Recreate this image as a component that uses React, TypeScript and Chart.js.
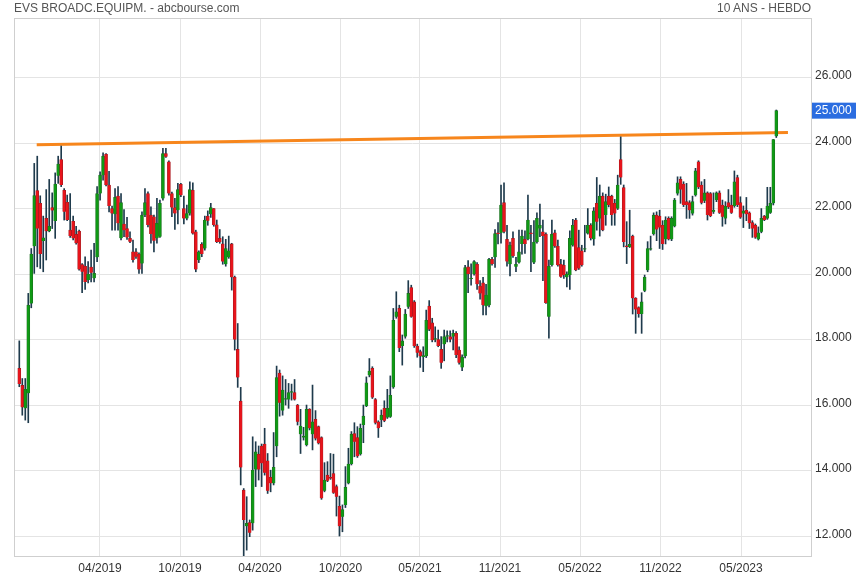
import React, { useEffect, useRef } from "react";
import { Chart, registerables } from "chart.js";
Chart.register(...registerables);

// Weekly candles (EVS Broadcast Equipment), oldest first
const opens = [
  17.13, 16.61, 15.91, 16.37, 19.11, 20.86, 22.56, 22.17, 21.02, 21.71,
  21.32, 22.04, 21.63, 23.01, 23.51, 22.57, 22.2, 21.35, 21.62, 21.22,
  21.32, 20.3, 20.25, 19.83, 20.22, 19.88, 20.52, 22.47, 23.03, 23.67,
  22.73, 22.01, 21.84, 22.39, 21.1, 21.54, 21.4, 21.1, 20.69, 20.69,
  20.62, 20.33, 21.81, 22.47, 21.81, 21.76, 21.1, 21.15, 22.32, 23.69,
  23.44, 22.47, 22.04, 21.96, 22.75, 22.01, 21.71, 21.86, 22.57, 21.3,
  20.44, 20.92, 20.79, 21.78, 21.84, 22.01, 21.51, 21.1, 20.93, 20.31,
  20.52, 20.93, 19.91, 17.71, 16.13, 13.41, 12.31, 12.42, 12.4, 14.04,
  14.51, 14.76, 14.82, 14.31, 13.8, 13.62, 14.76, 16.99, 15.84, 16.18,
  16.18, 16.39, 16.39, 16.01, 15.12, 15.02, 14.79, 15.88, 15.12, 15.57,
  15.35, 15.02, 13.39, 13.87, 13.8, 13.92, 13.52, 12.92, 12.6, 12.96,
  13.62, 14.21, 15.14, 15.02, 14.51, 15.4, 15.98, 16.92, 17.13, 16.18,
  15.5, 15.55, 15.91, 15.63, 15.65, 16.55, 18.71, 18.96, 17.81, 18.1,
  19.01, 19.6, 19.16, 17.81, 17.64, 17.48, 17.5, 19.03, 18.52, 18.01,
  18.01, 17.71, 17.87, 18.1, 18.1, 18.1, 18.2, 17.69, 17.16, 17.5,
  20.23, 19.86, 20.01, 20.31, 19.64, 19.74, 19.03, 19.06, 20.46, 20.52,
  21.27, 21.27, 22.19, 21.07, 20.31, 21.1, 20.23, 20.36, 20.93, 21.07,
  21.07, 21.27, 20.36, 20.99, 21.4, 21.3, 21.23, 18.71, 20.28, 21.27,
  20.86, 20.31, 20.28, 19.91, 19.98, 20.89, 21.66, 20.82, 20.72, 20.76,
  21.25, 21.5, 21.07, 22.17, 21.71, 22.39, 21.81, 22.39, 22.39, 22.17,
  22.01, 23.51, 22.65, 20.86, 20.84, 21.17, 19.27, 18.99, 18.79, 19.5,
  20.13, 20.76, 21.23, 21.81, 21.78, 21.5, 21.07, 21.71, 21.07, 21.47,
  22.47, 22.9, 22.76, 22.22, 22.19, 21.86, 22.42, 23.44, 22.73, 22.25,
  22.49, 22.47, 21.91, 22.27, 22.49, 22.12, 21.71, 22.19, 22.12, 22.09,
  22.96, 22.19, 21.86, 21.96, 21.88, 21.58, 21.5, 21.07, 21.3, 21.78,
  21.71, 21.88, 22.17, 24.22
];
const highs = [
  17.97, 16.82, 16.82, 19.42, 20.79, 23.39, 23.61, 22.4, 21.78, 22.59,
  22.9, 22.49, 23.1, 23.61, 23.92, 22.62, 22.42, 22.47, 21.78, 21.47,
  21.35, 20.33, 20.54, 20.39, 20.74, 20.95, 22.68, 23.13, 23.71, 23.69,
  23.15, 22.09, 22.62, 22.68, 22.47, 21.98, 21.74, 21.3, 21.05, 20.79,
  20.66, 21.91, 22.62, 22.52, 22.06, 21.81, 22.32, 22.27, 23.85, 23.85,
  23.47, 22.51, 22.32, 22.78, 22.78, 22.39, 22.12, 22.83, 22.8, 21.35,
  20.72, 20.97, 21.78, 21.94, 22.17, 22.01, 21.66, 21.37, 21.15, 21.07,
  21.17, 20.95, 19.95, 18.5, 16.55, 13.46, 13.21, 12.5, 15.04, 14.89,
  14.76, 14.82, 15.3, 14.53, 14.02, 15.17, 17.2, 17.08, 16.9, 16.79,
  16.67, 16.65, 16.79, 16.03, 15.88, 15.33, 16.01, 15.9, 16.62, 15.84,
  15.37, 15.04, 14.25, 14.28, 14.53, 14.51, 13.57, 13.23, 12.96, 14.13,
  14.69, 15.2, 15.47, 15.35, 15.43, 16.01, 16.87, 17.43, 17.18, 16.21,
  15.53, 15.86, 16.14, 16.49, 16.9, 18.96, 19.47, 19.06, 18.15, 18.93,
  19.81, 19.67, 19.2, 17.87, 17.69, 17.79, 18.91, 19.2, 18.66, 18.4,
  18.3, 18.1, 18.3, 18.28, 18.28, 18.3, 18.25, 17.79, 17.54, 20.28,
  20.42, 20.32, 20.42, 20.36, 19.81, 19.91, 19.7, 20.49, 20.52, 21.37,
  21.58, 22.73, 22.8, 21.5, 20.99, 21.3, 20.52, 21.35, 21.35, 21.33,
  22.42, 21.5, 21.64, 21.88, 22.15, 21.66, 21.27, 20.44, 21.66, 21.35,
  21.05, 20.46, 20.44, 20.08, 21.33, 21.68, 21.71, 21.35, 20.89, 21.5,
  22.01, 21.55, 22.04, 22.96, 22.73, 22.49, 22.45, 22.67, 22.42, 22.29,
  23.03, 24.2, 22.73, 21.61, 21.96, 21.2, 19.29, 19.01, 19.44, 19.98,
  21.0, 21.17, 21.88, 21.91, 21.96, 21.64, 21.76, 21.76, 21.76, 22.32,
  22.98, 22.98, 22.83, 22.78, 22.25, 22.39, 23.24, 23.47, 22.83, 22.9,
  22.52, 22.5, 22.49, 22.52, 22.55, 22.27, 22.22, 22.59, 22.42, 23.16,
  23.03, 22.37, 22.09, 22.35, 21.91, 21.64, 21.54, 21.45, 22.01, 21.8,
  22.66, 22.66, 24.12, 25.02
];
const lows = [
  16.57, 15.7, 15.55, 15.47, 18.98, 20.03, 20.23, 20.18, 20.08, 20.44,
  21.3, 21.4, 21.1, 22.78, 22.68, 21.66, 21.64, 21.13, 21.05, 20.92,
  20.13, 19.44, 19.54, 19.74, 19.77, 19.77, 20.39, 22.27, 22.88, 22.7,
  21.91, 21.35, 21.35, 21.35, 21.05, 21.15, 21.07, 20.97, 20.37, 20.49,
  20.03, 20.03, 21.76, 21.45, 20.95, 20.69, 20.95, 21.13, 22.27, 23.57,
  22.42, 21.76, 21.37, 21.54, 22.37, 21.54, 21.66, 21.81, 21.23, 20.08,
  20.36, 20.54, 20.74, 21.5, 21.74, 21.47, 20.97, 20.95, 20.31, 20.25,
  20.49, 19.52, 17.69, 16.55, 13.57, 11.38, 11.58, 11.99, 12.19, 13.52,
  13.72, 13.52, 13.87, 13.31, 13.36, 13.57, 14.43, 15.67, 15.7, 16.01,
  15.91, 16.16, 16.16, 15.4, 14.53, 14.94, 14.76, 15.25, 14.64, 14.94,
  14.82, 13.13, 13.36, 13.67, 13.74, 13.31, 12.62, 12.01, 12.14, 12.88,
  13.6, 14.18, 14.43, 14.41, 14.48, 14.86, 15.96, 16.87, 16.21, 15.43,
  15.02, 15.35, 15.5, 15.6, 15.63, 16.52, 18.66, 17.64, 17.23, 18.05,
  18.96, 18.69, 17.77, 17.47, 17.16, 17.03, 17.46, 18.28, 17.94, 17.94,
  17.79, 17.13, 17.36, 17.94, 17.94, 17.69, 17.46, 17.26, 17.06, 17.45,
  19.44, 19.67, 19.98, 19.54, 19.24, 18.76, 18.76, 19.01, 20.28, 20.21,
  20.93, 20.95, 21.27, 20.25, 19.95, 20.52, 20.08, 20.34, 20.62, 20.64,
  21.05, 20.08, 20.33, 20.95, 21.15, 19.81, 19.11, 18.05, 20.25, 20.82,
  20.25, 19.91, 19.88, 19.62, 19.54, 20.86, 20.11, 20.15, 20.25, 20.69,
  21.23, 21.05, 20.89, 21.35, 21.17, 21.33, 21.5, 22.06, 21.5, 21.5,
  21.98, 22.75, 20.84, 20.33, 20.82, 18.79, 18.2, 18.69, 18.2, 19.47,
  20.08, 20.74, 21.2, 21.03, 20.79, 20.76, 20.93, 21.05, 21.03, 21.45,
  22.42, 22.17, 22.07, 21.71, 21.71, 21.81, 22.39, 22.62, 22.15, 22.19,
  21.66, 21.76, 21.86, 22.22, 21.86, 21.47, 21.54, 22.01, 21.86, 22.05,
  22.07, 21.71, 21.43, 21.64, 21.4, 21.13, 21.1, 21.05, 21.27, 21.64,
  21.68, 21.86, 22.12, 24.18
];
const closes = [
  16.65, 15.94, 16.49, 19.06, 20.62, 22.41, 21.4, 20.62, 21.12, 21.32,
  21.47, 21.95, 22.76, 23.37, 22.73, 21.91, 21.66, 21.17, 21.1, 20.95,
  20.15, 20.08, 19.77, 20.01, 20.05, 20.03, 22.47, 23.03, 23.61, 22.73,
  22.09, 21.86, 22.35, 21.56, 22.19, 21.35, 21.13, 21.0, 20.44, 20.54,
  20.15, 21.81, 22.19, 21.51, 21.23, 21.03, 21.56, 22.17, 23.69, 23.59,
  22.47, 22.04, 21.86, 22.59, 22.42, 21.71, 21.86, 22.59, 21.25, 20.15,
  20.69, 20.62, 21.66, 21.64, 22.04, 21.51, 20.99, 20.99, 20.39, 20.79,
  20.72, 19.91, 18.01, 16.85, 14.11, 12.5, 12.4, 12.11, 14.02, 14.58,
  14.04, 14.23, 13.94, 13.39, 13.62, 14.11, 16.85, 16.08, 16.47, 16.21,
  16.39, 16.4, 16.18, 15.5, 15.37, 15.06, 15.88, 15.3, 15.5, 14.99,
  14.84, 13.16, 13.72, 13.7, 13.77, 13.33, 13.21, 12.31, 12.82, 13.5,
  14.21, 15.12, 14.89, 14.45, 15.3, 15.67, 16.69, 17.05, 16.24, 15.47,
  15.3, 15.7, 15.53, 15.91, 16.31, 18.6, 18.86, 17.75, 17.97, 18.79,
  19.42, 18.71, 17.81, 17.61, 17.5, 17.52, 18.6, 18.32, 17.99, 18.02,
  17.81, 17.3, 18.1, 18.11, 18.01, 18.2, 17.54, 17.3, 17.48, 20.21,
  20.01, 19.89, 20.39, 19.7, 19.42, 19.06, 19.37, 20.46, 20.32, 21.25,
  21.23, 22.12, 21.3, 20.39, 20.89, 20.56, 20.31, 20.69, 21.17, 20.93,
  21.66, 21.23, 20.99, 21.71, 21.5, 21.17, 19.13, 20.25, 21.23, 20.86,
  20.28, 19.93, 19.98, 20.01, 21.1, 21.5, 20.13, 20.18, 20.28, 20.77,
  21.5, 21.1, 21.94, 21.61, 22.39, 21.35, 22.22, 22.12, 21.81, 21.86,
  22.73, 22.96, 20.99, 20.84, 20.92, 19.27, 18.93, 18.79, 19.16, 19.91,
  20.79, 20.78, 21.81, 21.37, 21.43, 20.93, 21.66, 21.07, 21.71, 22.27,
  22.8, 22.59, 22.12, 22.12, 21.96, 22.22, 23.16, 22.66, 22.19, 22.49,
  21.81, 21.78, 21.96, 22.49, 21.88, 21.76, 22.09, 22.05, 21.88, 22.83,
  22.12, 21.74, 21.94, 21.84, 21.56, 21.4, 21.13, 21.27, 21.71, 21.66,
  22.09, 22.17, 24.12, 25.0
];

// x-axis: week index of each dated gridline, and its label
const tickWeeks = [26.97, 53.71, 80.45, 107.35, 133.92, 160.66, 187.4, 214.3, 241.21];
const tickLabels = ["04/2019", "10/2019", "04/2020", "10/2020", "05/2021", "11/2021", "05/2022", "11/2022", "05/2023"];
const yTicks = [12, 14, 16, 18, 20, 22, 24, 26];

// orange resistance line (week index, price)
const trendWeeks = [5.82, 256.9];
const trendValues = [23.96, 24.33];

const FONT = "'Liberation Sans', Arial, sans-serif";

export default function App() {
  const ref = useRef<HTMLCanvasElement>(null);

  useEffect(() => {
    if (!ref.current) return;
    const idx = closes.map((_, i) => i);
    const up = closes.map((c, i) => c >= opens[i]);

    const framePlugin = {
      id: "frame",
      beforeDatasetsDraw(chart: any) {
        const { ctx, chartArea: a } = chart;
        ctx.save();
        ctx.strokeStyle = "#cfcfcf";
        ctx.lineWidth = 1;
        ctx.strokeRect(Math.round(a.left) + 0.5, Math.round(a.top) + 0.5, Math.round(a.right - a.left), Math.round(a.bottom - a.top));
        ctx.restore();
      },
    };

    const lastPricePlugin = {
      id: "lastPrice",
      afterDraw(chart: any) {
        const { ctx, chartArea: a } = chart;
        const last = closes[closes.length - 1];
        const y = chart.scales.y.getPixelForValue(last);
        ctx.save();
        ctx.fillStyle = "#2b6de0";
        ctx.fillRect(a.right + 1, y - 8, 44, 16);
        ctx.fillStyle = "#ffffff";
        ctx.font = `12px ${FONT}`;
        ctx.textBaseline = "middle";
        ctx.textAlign = "left";
        ctx.fillText(last.toFixed(3), a.right + 4, y + 0.5);
        ctx.restore();
      },
    };

    const chart = new Chart(ref.current, {
      type: "bar",
      data: {
        datasets: [
          {
            type: "line",
            data: trendWeeks.map((x, i) => ({ x, y: trendValues[i] })),
            borderColor: "#f7861c",
            borderWidth: 3,
            pointRadius: 0,
            order: 2,
          } as any,
          {
            type: "bar",
            data: idx.map((i) => ({ x: i, y: [lows[i], highs[i]] })),
            backgroundColor: "#1e3a4c",
            barThickness: 1,
            grouped: false,
            order: 1,
          } as any,
          {
            type: "bar",
            data: idx.map((i) => ({ x: i, y: [opens[i], closes[i]] })),
            backgroundColor: up.map((u) => (u ? "#0f9a14" : "#e8141b")),
            borderColor: up.map((u) => (u ? "#1d6a22" : "#a01a1f")),
            borderWidth: 0.6,
            barThickness: 3,
            minBarLength: 1,
            grouped: false,
            order: 0,
          } as any,
        ],
      },
      options: {
        animation: false,
        responsive: false,
        devicePixelRatio: 1,
        layout: { padding: { left: 14, top: 18, right: 0, bottom: 0 } },
        plugins: { legend: { display: false }, tooltip: { enabled: false } },
        scales: {
          x: {
            type: "linear",
            min: -1.77,
            max: 264.6,
            offset: false,
            grid: { color: "#e4e4e4", drawTicks: false, offset: false },
            border: { display: false },
            afterBuildTicks: (s: any) => {
              s.ticks = tickWeeks.map((v) => ({ value: v }));
            },
            afterFit: (s: any) => {
              s.height = 24;
            },
            ticks: {
              autoSkip: false,
              maxRotation: 0,
              padding: 5,
              color: "#333",
              font: { family: FONT, size: 12 },
              callback: (_v: any, i: number) => tickLabels[i],
            },
          },
          y: {
            position: "right",
            min: 11.4,
            max: 27.83,
            grid: { color: "#e4e4e4", drawTicks: false },
            border: { display: false },
            afterBuildTicks: (s: any) => {
              s.ticks = yTicks.map((v) => ({ value: v }));
            },
            afterFit: (s: any) => {
              s.width = 49;
            },
            ticks: {
              padding: 4,
              labelOffset: -2,
              color: "#333",
              font: { family: FONT, size: 12 },
              callback: (v: any) => Number(v).toFixed(3),
            },
          },
        },
      } as any,
      plugins: [framePlugin, lastPricePlugin],
    });
    return () => chart.destroy();
  }, []);

  return (
    <div style={{ position: "absolute", left: 0, top: 0, width: 860, height: 580, background: "#fff" }}>
      <canvas ref={ref} width={860} height={580} style={{ position: "absolute", left: 0, top: 0 }} />
      <div style={{ position: "absolute", left: 14, top: 1, font: `12px ${FONT}`, color: "#555" }}>
        EVS BROADC.EQUIPM. - abcbourse.com
      </div>
      <div style={{ position: "absolute", right: 49, top: 1, font: `12px ${FONT}`, color: "#555" }}>
        10 ANS - HEBDO
      </div>
    </div>
  );
}
